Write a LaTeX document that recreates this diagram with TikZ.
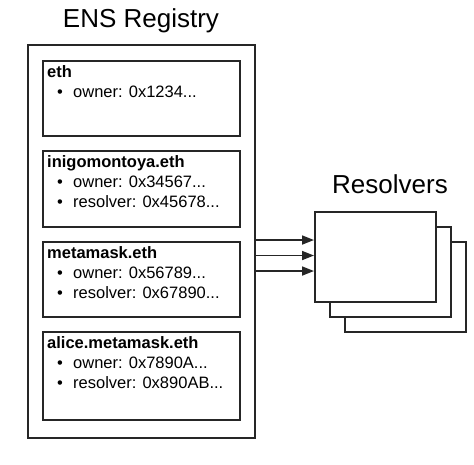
\documentclass[tikz,border=0pt]{standalone}
\usepackage{fontspec}
\setmainfont{Liberation Sans}
\usetikzlibrary{arrows.meta}
\begin{document}
\begin{tikzpicture}[x=1pt,y=-1pt,
  box/.style={draw=black!85, line width=1.7pt, fill=white, inner sep=0pt, anchor=north west},
  entry/.style={box, minimum width=197pt},
  resbox/.style={box, minimum width=121pt, minimum height=90pt},
  big/.style={font=\fontsize{26}{30}\selectfont, anchor=base, inner sep=0pt},
  hdr/.style={font=\fontsize{16.5}{20}\selectfont\bfseries, anchor=base west, inner sep=0pt},
  item/.style={font=\fontsize{16.5}{20}\selectfont, anchor=base west, inner sep=0pt},
  arr/.style={-{Triangle[length=12pt,width=9pt]}, line width=1.7pt, draw=black!85, fill=black!85}]
\useasboundingbox (0,0) rectangle (474,464);
\newcommand{\bl}{\makebox[16pt][l]{\textbullet}}
% title
\node[big] (title) at (141,27) {ENS Registry};
% registry
\node[box, minimum width=227pt, minimum height=393pt] (reg) at (27,44) {};
% entries
\node[entry, minimum height=75pt] (e1) at (42,60) {};
\node[hdr] (e1h) at (47,77) {eth};
\node[item] (e1a) at (57,97) {\bl owner: 0x1234...};

\node[entry, minimum height=76pt] (e2) at (42,150) {};
\node[hdr] (e2h) at (47,167.5) {inigomontoya.eth};
\node[item] (e2a) at (57,187.5) {\bl owner: 0x34567...};
\node[item] (e2b) at (57,207.5) {\bl resolver: 0x45678...};

\node[entry, minimum height=75pt] (e3) at (42,241) {};
\node[hdr] (e3h) at (47,258) {metamask.eth};
\node[item] (e3a) at (57,278) {\bl owner: 0x56789...};
\node[item] (e3b) at (57,298) {\bl resolver: 0x67890...};

\node[entry, minimum height=88pt] (e4) at (42,331) {};
\node[hdr] (e4h) at (47,348) {alice.metamask.eth};
\node[item] (e4a) at (57,368) {\bl owner: 0x7890A...};
\node[item] (e4b) at (57,388) {\bl resolver: 0x890AB...};

% resolvers
\node[big] (rtitle) at (390,193) {Resolvers};
\node[resbox] (r3) at (344,241) {};
\node[resbox] (r2) at (329,226) {};
\node[resbox] (r1) at (314,211) {};

\coordinate (t1) at (314,240);
\coordinate (t2) at (314,255.5);
\coordinate (t3) at (314,271);
\draw[arr] (reg.east |- t1) -- (t1);
\draw[arr] (reg.east |- t2) -- (t2);
\draw[arr] (reg.east |- t3) -- (t3);
\end{tikzpicture}
\end{document}
